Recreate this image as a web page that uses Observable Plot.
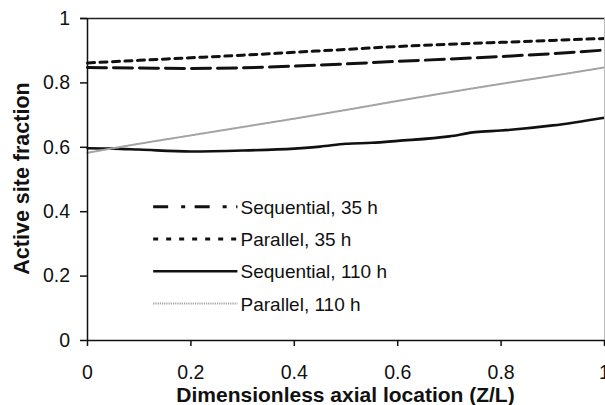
<!DOCTYPE html>
<html>
<head>
<meta charset="utf-8">
<script src="https://cdn.jsdelivr.net/npm/d3@7"></script>
<script src="https://cdn.jsdelivr.net/npm/@observablehq/plot@0.6"></script>
<style>
  html, body { margin: 0; padding: 0; background: #fff; overflow: hidden; }
  #chart svg { display: block; }
</style>
</head>
<body>
<div id="chart"></div>
<script>
// ---- data ----
const seriesNames = ["Sequential, 35 h", "Parallel, 35 h", "Sequential, 110 h", "Parallel, 110 h"];

const seq35X = [0, 0.1, 0.2, 0.3, 0.4, 0.5, 0.6, 0.7, 0.8, 0.9, 1.0];
const seq35Y = [0.848, 0.846, 0.845, 0.847, 0.852, 0.859, 0.867, 0.874, 0.882, 0.891, 0.902];

const par35X = [0, 0.1, 0.2, 0.3, 0.4, 0.5, 0.6, 0.7, 0.8, 0.9, 1.0];
const par35Y = [0.862, 0.870, 0.878, 0.886, 0.895, 0.904, 0.913, 0.920, 0.926, 0.932, 0.938];

const seq110X = [0, 0.05, 0.1, 0.2, 0.3, 0.4, 0.45, 0.5, 0.55, 0.6, 0.7, 0.75, 0.8, 0.9, 1.0];
const seq110Y = [0.597, 0.596, 0.593, 0.587, 0.590, 0.596, 0.602, 0.611, 0.614, 0.620, 0.634, 0.647, 0.652, 0.668, 0.692];

const par110X = [0, 0.1, 0.2, 0.3, 0.4, 0.5, 0.6, 0.7, 0.8, 0.9, 1.0];
const par110Y = [0.583, 0.611, 0.637, 0.663, 0.689, 0.716, 0.744, 0.771, 0.797, 0.822, 0.848];

const xTicks = [0, 0.2, 0.4, 0.6, 0.8, 1];
const yTicks = [0, 0.2, 0.4, 0.6, 0.8, 1];

// ---- styles ----
const styles = {
  "Sequential, 35 h": {stroke: "#111", strokeWidth: 3, dash: "19,7", legendDash: "15,13,4,9.5"},
  "Parallel, 35 h":   {stroke: "#111", strokeWidth: 3, dash: "7,5.5", legendDash: "5,8"},
  "Sequential, 110 h":{stroke: "#111", strokeWidth: 2.6, dash: null, legendDash: null},
  "Parallel, 110 h":  {stroke: "#a3a3a3", strokeWidth: 2, dash: "1.2,1", legendDash: "1.2,1"}
};

const xsAll = [seq35X, par35X, seq110X, par110X];
const ysAll = [seq35Y, par35Y, seq110Y, par110Y];
const rows = [];
seriesNames.forEach((name, i) => {
  xsAll[i].forEach((x, j) => rows.push({series: name, x, y: ysAll[i][j]}));
});

// legend placement (data units)
const legX1 = 0.127, legX2 = 0.290, legTextX = 0.296;
const legY0 = 0.415, legStep = 0.1;
const legend = seriesNames.map((name, i) => ({series: name, y: legY0 - i * legStep}));

const FONT = "'Liberation Sans', Arial, Helvetica, sans-serif";

const marks = [];
seriesNames.forEach(name => {
  const s = styles[name];
  marks.push(Plot.line(rows.filter(d => d.series === name), {
    x: "x", y: "y", stroke: s.stroke, strokeWidth: s.strokeWidth,
    strokeDasharray: s.dash || undefined, curve: "monotone-x"
  }));
});
legend.forEach(l => {
  const s = styles[l.series];
  marks.push(Plot.link([l], {
    x1: () => legX1, x2: () => legX2, y1: "y", y2: "y",
    stroke: s.stroke, strokeWidth: s.strokeWidth,
    strokeDasharray: s.legendDash || undefined
  }));
});
marks.push(Plot.text(legend, {
  x: () => legTextX, y: "y", text: "series", textAnchor: "start",
  fontSize: 19, fill: "#111", dy: 1
}));

// frame lines
marks.push(Plot.ruleY([1], {stroke: "#222", strokeWidth: 1.5, x1: -0.013, x2: 1.01}));
marks.push(Plot.ruleX([1], {stroke: "#bbb", strokeWidth: 1}));
marks.push(Plot.ruleX([0], {stroke: "#111", strokeWidth: 1.5}));
marks.push(Plot.ruleY([0], {stroke: "#111", strokeWidth: 1.5, x2: 1.01}));

marks.push(Plot.axisY({
  ticks: yTicks, tickSize: 7, tickPadding: 10.5, tickFormat: d => String(d),
  fontSize: 19.5, label: null, stroke: "#111", strokeWidth: 1.5
}));
marks.push(Plot.axisX({
  ticks: xTicks, tickSize: 6, tickPadding: 19, tickFormat: d => String(d),
  fontSize: 19.5, label: null, stroke: "#111", strokeWidth: 1.5
}));

const chart = Plot.plot({
  width: 605,
  height: 405,
  marginLeft: 87,
  marginRight: 1,
  marginTop: 18,
  marginBottom: 65,
  style: {fontFamily: FONT, color: "#111", background: "#fff"},
  x: {domain: [0, 1]},
  y: {domain: [0, 1]},
  marks
});

// axis titles as real text inside the svg
const svg = d3.select(chart);
svg.append("text")
  .attr("x", (87 + 604) / 2).attr("y", 401.5)
  .attr("text-anchor", "middle")
  .attr("font-family", FONT).attr("font-size", 21).attr("font-weight", "bold")
  .attr("fill", "#111")
  .text("Dimensionless axial location (Z/L)");
svg.append("text")
  .attr("transform", "translate(29," + 178.5 + ") rotate(-90)")
  .attr("text-anchor", "middle")
  .attr("font-family", FONT).attr("font-size", 21.5).attr("font-weight", "bold")
  .attr("fill", "#111")
  .text("Active site fraction");

document.getElementById("chart").appendChild(chart);
</script>
</body>
</html>
